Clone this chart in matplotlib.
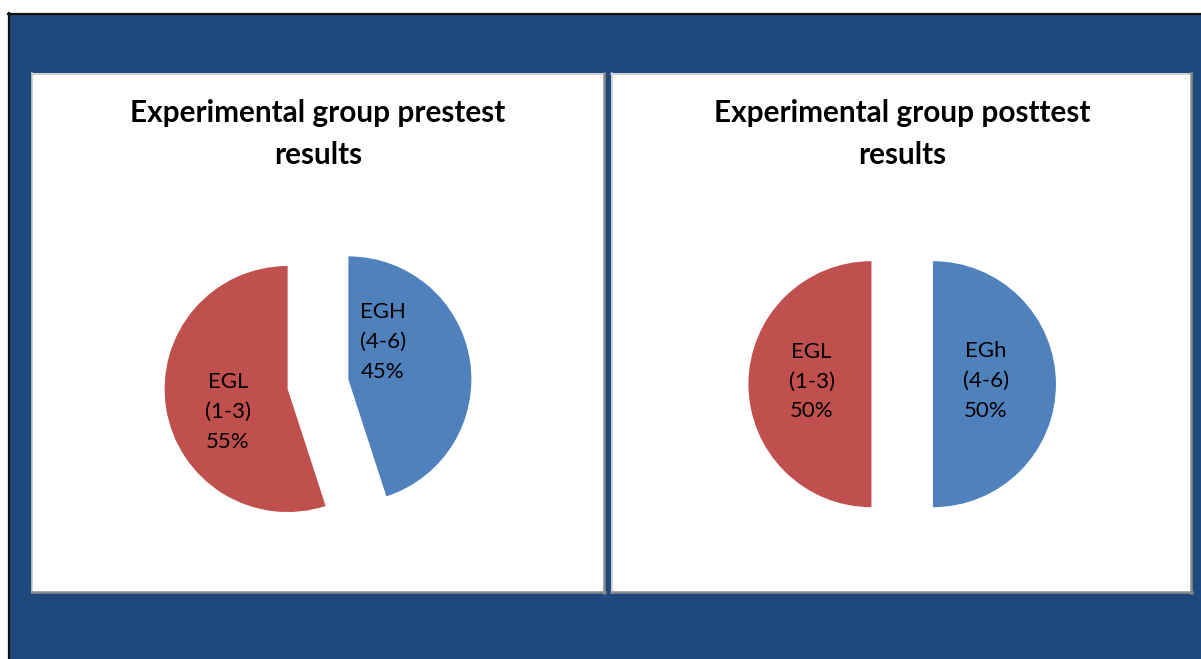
import matplotlib
matplotlib.use("Agg")
import matplotlib.pyplot as plt
from matplotlib.patches import Rectangle

# ---- data -------------------------------------------------------------
pre_title = "Experimental group prestest\nresults"
post_title = "Experimental group posttest\nresults"

pre_names = ["EGH", "EGL"]
post_names = ["EGh", "EGL"]
score_ranges = ["(4-6)", "(1-3)"]
pre_values = [45, 55]
post_values = [50, 50]

slice_colors = ["#4F81BD", "#C0504D"]

# ---- canvas -----------------------------------------------------------
W, H, DPI = 1201, 659, 100
fig = plt.figure(figsize=(W / DPI, H / DPI), dpi=DPI)
fig.patch.set_facecolor("white")

# background axes in pixel units (y grows downward)
bg = fig.add_axes([0, 0, 1, 1])
bg.set_xlim(0, W)
bg.set_ylim(H, 0)
bg.axis("off")

navy = "#1F497D"
bg.add_patch(Rectangle((8, 13), W - 8, H - 13, facecolor=navy, edgecolor="none"))
bg.plot([8.5, 8.5], [13, H], color="#111111", lw=1.6)
bg.plot([8, W], [13.5, 13.5], color="#111111", lw=1.6)

panels = [(31.5, 73, 573.5, 520), (611, 73, 581, 520)]
for x, y, w, h in panels:
    bg.add_patch(Rectangle((x, y), w, h, facecolor="white", edgecolor="none"))
    bg.plot([x, x + w], [y + 0.5, y + 0.5], color="#C8C8C8", lw=1.2)
    bg.plot([x + 0.5, x + 0.5], [y, y + h], color="#C8C8C8", lw=1.2)
    bg.plot([x + w - 1, x + w - 1], [y, y + h], color="#8A8A8A", lw=1.8)
    bg.plot([x, x + w], [y + h - 1, y + h - 1], color="#8A8A8A", lw=1.8)

R = 123.0  # pie radius in pixels
pies = [
    dict(center=(318, 384.2), title=pre_title, names=pre_names, values=pre_values,
         label_pos=[(0.528, 0.343), (-0.732, -0.226)]),
    dict(center=(902.2, 384.2), title=post_title, names=post_names, values=post_values,
         label_pos=[(0.681, 0.026), (-0.736, 0.02)]),
]

title_font = dict(family=["Lato", "DejaVu Sans"], weight="bold", size=21.4)
label_font = dict(family=["Lato", "DejaVu Sans"], size=16)

for p in pies:
    cx, cy = p["center"]
    bg.text(cx, 134, p["title"], ha="center", va="center", linespacing=1.6,
            **title_font)

    hw, hh = 175, 150
    ax = fig.add_axes([(cx - hw) / W, (H - cy - hh) / H, 2 * hw / W, 2 * hh / H])
    ax.pie(p["values"], colors=slice_colors, startangle=90, counterclock=False,
           explode=[0.25, 0.25], radius=1.0,
           wedgeprops=dict(linewidth=0))
    ax.set_aspect("auto")
    ax.set_xlim(-hw / R, hw / R)
    ax.set_ylim(-hh / R, hh / R)
    ax.axis("off")

    for name, rng, val, (lx, ly) in zip(p["names"], score_ranges, p["values"], p["label_pos"]):
        ax.text(lx, ly, f"{name}\n{rng}\n{val}%", ha="center", va="center",
                linespacing=1.6, color="black", **label_font)

fig.savefig("out.png", dpi=DPI, facecolor=fig.get_facecolor())
